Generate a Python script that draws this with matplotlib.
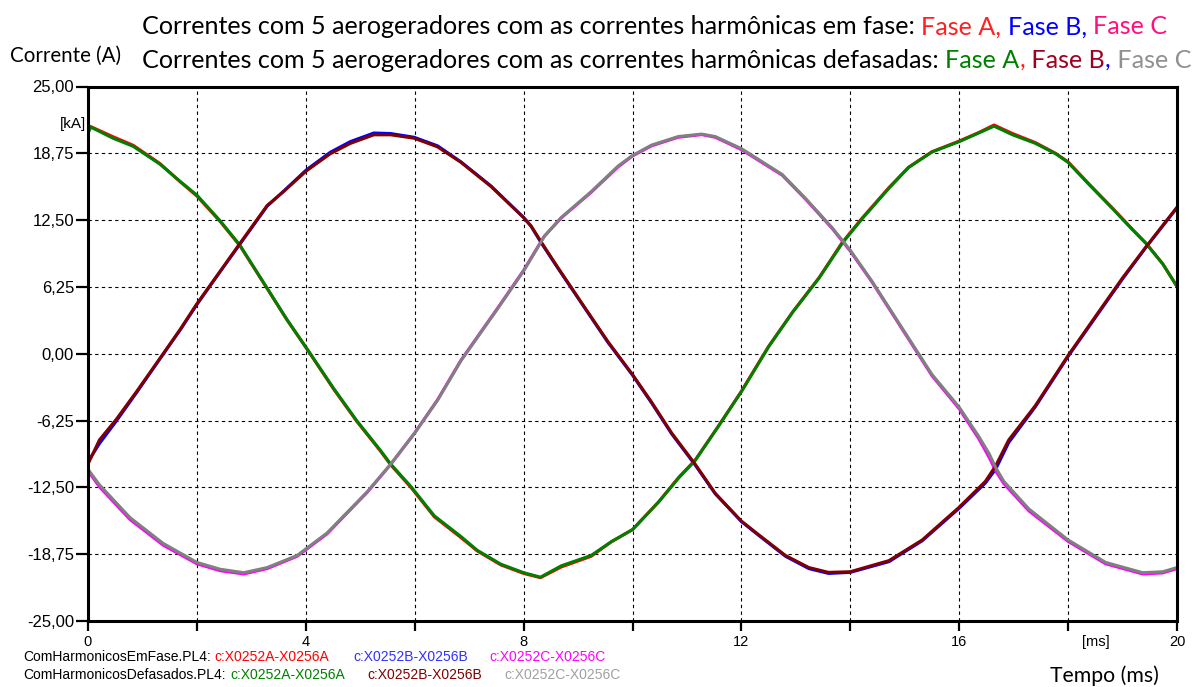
import matplotlib.pyplot as plt

# tempo (ms) e corrente (kA) de cada fase
t_a = [0, 0.05, 0.46, 0.83, 1.32, 1.69, 2.0, 2.43, 2.79, 3.29, 3.65, 4.02, 4.51, 4.94, 5.37, 5.56,
       5.93, 6.36, 6.85, 7.15, 7.58, 8.0, 8.31, 8.69, 9.24, 9.61, 10.0, 10.48, 10.85, 11.15, 11.58,
       12.0, 12.5, 12.94, 13.43, 13.85, 14.21, 14.71, 15.07, 15.5, 16.0, 16.36, 16.64, 16.98, 17.4,
       17.77, 18.0, 18.39, 18.82, 19.18, 19.43, 19.74, 20.0]
ia_fase = [21.35, 21.25, 20.3, 19.5, 17.8, 16.1, 14.75, 12.35, 10.1, 6.1, 3.2, 0.45, -3.3, -6.35,
           -9.1, -10.4, -12.5, -15.25, -17.2, -18.45, -19.75, -20.55, -20.95, -19.95, -18.95, -17.6,
           -16.45, -13.85, -11.55, -9.95, -6.75, -3.5, 0.7, 3.9, 7.15, 10.4, 12.65, 15.55, 17.45,
           18.9, 19.9, 20.7, 21.4, 20.6, 19.75, 18.75, 17.95, 15.85, 13.6, 11.65, 10.35, 8.4, 6.3]
ia_def = [20.6, 21.2, 20.16, 19.4, 17.74, 16.13, 14.84, 12.42, 10.16, 6.13, 3.23, 0.48, -3.23, -6.29,
          -9.03, -10.32, -12.42, -15.16, -17.1, -18.39, -19.68, -20.48, -20.9, -19.84, -18.87, -17.58,
          -16.45, -13.87, -11.61, -10.0, -6.77, -3.55, 0.65, 3.87, 7.1, 10.32, 12.58, 15.48, 17.42,
          18.87, 19.84, 20.65, 21.29, 20.48, 19.68, 18.71, 17.9, 15.8, 13.55, 11.61, 10.32, 8.39, 6.29]

t_b = [0, 0.21, 0.52, 0.89, 1.38, 1.69, 2.0, 2.43, 2.79, 3.29, 3.59, 4.01, 4.45, 4.82, 5.25, 5.56,
       5.99, 6.42, 6.85, 7.4, 8.0, 8.14, 8.32, 8.63, 9.12, 9.55, 10.0, 10.35, 10.72, 11.15, 11.52,
       12.0, 12.32, 12.81, 13.24, 13.6, 14.0, 14.71, 15.32, 16.0, 16.48, 16.67, 16.91, 17.4, 18.0,
       18.51, 19.0, 19.43, 20.0]
ib_fase = [-10.1, -8.4, -6.3, -3.65, -0.05, 2.2, 4.6, 7.7, 10.25, 13.8, 15.2, 17.2, 18.85, 19.85,
           20.65, 20.6, 20.25, 19.45, 17.95, 15.7, 12.75, 11.9, 10.4, 8.0, 4.3, 1.05, -2.0, -4.6,
           -7.5, -10.4, -13.1, -15.7, -17.0, -18.95, -20.1, -20.55, -20.45, -19.45, -17.5, -14.45,
           -12.1, -10.8, -8.3, -4.95, -0.25, 3.45, 7.0, 9.95, 13.65]
ib_def = [-10.32, -8.06, -6.13, -3.55, 0.0, 2.26, 4.68, 7.74, 10.32, 13.87, 15.16, 17.1, 18.71, 19.68,
          20.48, 20.48, 20.16, 19.35, 17.9, 15.65, 12.74, 11.94, 10.48, 8.06, 4.35, 1.13, -1.94, -4.52,
          -7.42, -10.32, -13.06, -15.65, -16.94, -18.87, -20.0, -20.45, -20.39, -19.35, -17.42, -14.35,
          -11.94, -10.48, -8.06, -4.84, -0.16, 3.55, 7.1, 10.0, 13.71]

t_c = [0, 0.21, 0.77, 1.38, 2.0, 2.43, 2.86, 3.29, 3.84, 4.39, 5.13, 5.56, 6.0, 6.42, 6.85, 7.52, 8.0,
       8.38, 8.69, 9.24, 9.74, 10.0, 10.35, 10.84, 11.27, 11.52, 12.0, 12.75, 13.18, 13.67, 14.0,
       14.4, 15.01, 15.5, 16.0, 16.36, 16.55, 16.67, 16.82, 17.28, 18.0, 18.69, 19.37, 19.74, 20.0]
ic_fase = [-10.95, -12.45, -15.5, -17.9, -19.65, -20.3, -20.6, -20.1, -18.95, -16.85, -12.95,
           -10.35, -7.4, -4.3, -0.6, 4.25, 7.8, 11.0, 12.7, 15.1, 17.5, 18.5, 19.45, 20.25, 20.5,
           20.25, 19.1, 16.7, 14.45, 11.7, 9.6, 6.7, 1.85, -2.05, -5.15, -7.95, -9.7, -10.95, -12.15,
           -14.7, -17.55, -19.65, -20.6, -20.5, -20.1]
ic_def = [-10.81, -12.26, -15.32, -17.74, -19.52, -20.16, -20.48, -20.0, -18.87, -16.77, -12.9,
          -10.32, -7.42, -4.35, -0.65, 4.19, 7.74, 10.97, 12.74, 15.16, 17.58, 18.55, 19.52, 20.32,
          20.55, 20.32, 19.19, 16.77, 14.52, 11.77, 9.68, 6.77, 1.94, -1.94, -5.0, -7.74, -9.35,
          -10.65, -11.94, -14.52, -17.42, -19.52, -20.48, -20.39, -20.0]

y_ticks = [-25, -18.75, -12.5, -6.25, 0, 6.25, 12.5, 18.75, 25]
y_labels = ["-25,00", "-18,75", "-12,50", "-6,25", "0,00", "6,25", "12,50", "18,75", "25,00"]
x_ticks = [0, 2, 4, 6, 8, 10, 12, 14, 16, 18, 20]
x_labels = ["0", "", "4", "", "8", "", "12", "", "16", "", "20"]

fig = plt.figure(figsize=(12, 6.87), dpi=100)
ax = fig.add_axes([88 / 1200, 1 - 621 / 687, 1089 / 1200, 534.5 / 687])

lw = 2.2
ax.plot(t_a, ia_fase, color="#ff0000", lw=lw)
ax.plot(t_b, ib_fase, color="#0000ff", lw=lw)
ax.plot(t_c, ic_fase, color="#ff00ff", lw=lw)
ax.plot(t_a, ia_def, color="#008000", lw=lw)
ax.plot(t_b, ib_def, color="#800000", lw=lw)
ax.plot(t_c, ic_def, color="#808080", lw=lw)

ax.set_xlim(0, 20)
ax.set_ylim(-25, 25)
ax.set_xticks(x_ticks)
ax.set_xticklabels(x_labels, fontsize=10.5, family="Liberation Sans")
ax.set_yticks(y_ticks)
ax.set_yticklabels(y_labels, fontsize=12, family="Liberation Sans")
ax.tick_params(axis="y", direction="out", length=9, width=1.6, pad=1)
ax.tick_params(axis="x", direction="out", length=7, width=1.6, pad=3)
ax.grid(True, color="black", lw=0.8, linestyle=(0, (3, 3)))
for s in ax.spines.values():
    s.set_linewidth(2.2)

ax.text(-0.002, 0.93, "[kA]", transform=ax.transAxes, ha="right", va="center",
        fontsize=11, family="Liberation Sans")
ax.text(18.5, -27.0, "[ms]", ha="center", va="center", fontsize=10.5, family="Liberation Sans")

# títulos com as fases coloridas
def linha_colorida(x, y, partes, size):
    r = fig.canvas.get_renderer()
    for txt, cor in partes:
        t = fig.text(x, y, txt, color=cor, fontsize=size, family="Lato", va="center", ha="left")
        bb = t.get_window_extent(r)
        x = bb.x1 / fig.bbox.width

linha_colorida(142 / 1200, 1 - 27 / 687, [
    ("Correntes com 5 aerogeradores com as correntes harmônicas em fase: ", "black"),
    ("Fase A, ", "#ff2020"), ("Fase B, ", "#0000ff"), ("Fase C", "#ff1080")], 18.1)
linha_colorida(142 / 1200, 1 - 60 / 687, [
    ("Correntes com 5 aerogeradores com as correntes harmônicas defasadas: ", "black"),
    ("Fase A", "#008000"), (",", "#ff2020"), (" Fase B", "#a00020"), (",", "#0000ff"),
    (" Fase C", "#909090")], 18.1)

fig.text(10 / 1200, 1 - 56 / 687, "Corrente (A)", fontsize=14.8, family="Lato", va="center")
fig.text(1104 / 1200, 1 - 676 / 687, "Tempo (ms)", fontsize=15.3, family="Lato",
         va="center", ha="center")

# legenda dos arquivos PL4
leg_kw = dict(fontsize=10, family="Liberation Sans", va="center")
fig.text(23 / 1200, 1 - 657 / 687, "ComHarmonicosEmFase.PL4:", color="black", **leg_kw)
fig.text(214 / 1200, 1 - 657 / 687, "c:X0252A-X0256A", color="#ff0000", **leg_kw)
fig.text(353 / 1200, 1 - 657 / 687, "c:X0252B-X0256B", color="#3030ff", **leg_kw)
fig.text(489 / 1200, 1 - 657 / 687, "c:X0252C-X0256C", color="#ff00ff", **leg_kw)
fig.text(23 / 1200, 1 - 675 / 687, "ComHarmonicosDefasados.PL4:", color="black", **leg_kw)
fig.text(230 / 1200, 1 - 675 / 687, "c:X0252A-X0256A", color="#008000", **leg_kw)
fig.text(367 / 1200, 1 - 675 / 687, "c:X0252B-X0256B", color="#800000", **leg_kw)
fig.text(504 / 1200, 1 - 675 / 687, "c:X0252C-X0256C", color="#a0a0a0", **leg_kw)

fig.savefig("out.png", dpi=100)
